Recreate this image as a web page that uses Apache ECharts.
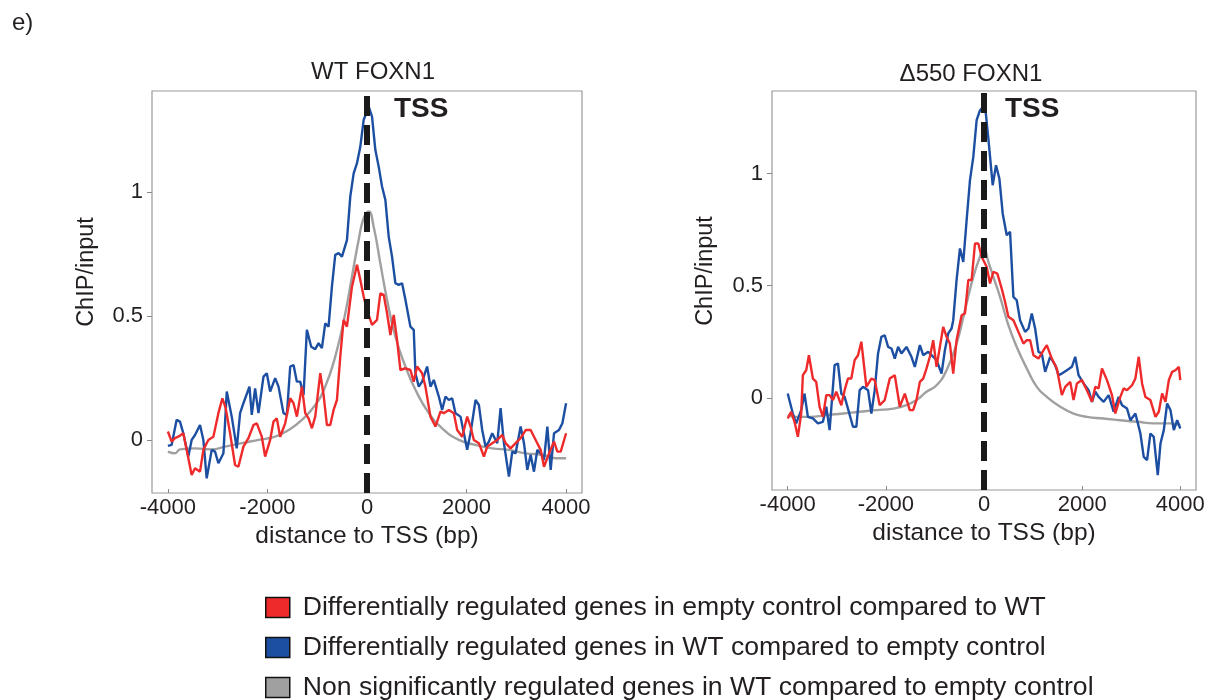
<!DOCTYPE html>
<html>
<head>
<meta charset="utf-8">
<script src="https://cdn.jsdelivr.net/npm/echarts@6/dist/echarts.min.js"></script>
<style>
html, body { margin: 0; padding: 0; background: #fff; }
#main { width: 1208px; height: 700px; }
</style>
</head>
<body>
<div id="main"></div>
<script>
// series names (legend)
var names = [
    'Differentially regulated genes in empty control compared to WT',
    'Differentially regulated genes in WT compared to empty control',
    'Non significantly regulated genes in WT compared to empty control'
];
var colors = ['#ee2a2b', '#1c4fa2', '#a0a0a0'];
var xTicks = [-4000, -2000, 0, 2000, 4000];
var yTicks = [0, 0.5, 1];

// WT FOXN1 panel, [distance bp, ChIP/input]
var wtRed = [[-4000,0.034],[-3926,-0.007],[-3859,0.007],[-3792,0.013],[-3691,0.027],[-3604,-0.060],[-3523,-0.141],[-3456,-0.114],[-3355,-0.128],[-3288,-0.040],[-3188,0],[-3087,0.013],[-2986,0.108],[-2906,0.168],[-2839,0.128],[-2751,0.027],[-2651,-0.101],[-2584,-0.108],[-2483,-0.027],[-2382,0.007],[-2281,0.060],[-2214,0.067],[-2114,0.013],[-2047,-0.067],[-1946,0],[-1879,0.074],[-1812,0.087],[-1745,0.013],[-1644,0.067],[-1543,0.168],[-1476,0.148],[-1409,0.094],[-1308,0.215],[-1241,0.108],[-1174,0.087],[-1107,0.047],[-1040,0.094],[-939,0.269],[-872,0.181],[-805,0.060],[-738,0.060],[-671,0.121],[-604,0.161],[-537,0.336],[-470,0.484],[-403,0.457],[-302,0.618],[-201,0.706],[-134,0.645],[-67,0.578],[0,0.524],[101,0.464],[201,0.484],[268,0.591],[336,0.585],[403,0.511],[470,0.423],[537,0.504],[604,0.403],[671,0.282],[772,0.289],[872,0.282],[939,0.235],[1007,0.296],[1107,0.269],[1174,0.215],[1275,0.094],[1376,0.054],[1476,0.114],[1543,0.108],[1644,0.121],[1745,0.108],[1812,0.040],[1913,0.013],[2013,0.094],[2080,0.054],[2147,0],[2248,-0.013],[2349,-0.067],[2416,-0.027],[2516,-0.013],[2617,0],[2718,0.020],[2785,-0.013],[2885,-0.034],[2986,-0.013],[3087,0.007],[3188,0.040],[3288,0.040],[3389,0],[3489,-0.040],[3556,-0.108],[3658,-0.054],[3758,-0.007],[3825,-0.047],[3892,-0.047],[4000,0.027]];

var wtBlue = [[-4000,-0.024],[-3926,-0.020],[-3825,0.081],[-3758,0.074],[-3691,0.027],[-3590,-0.067],[-3523,0],[-3456,0.020],[-3355,0.060],[-3288,0],[-3221,-0.155],[-3120,-0.040],[-3053,-0.047],[-2986,-0.094],[-2885,-0.054],[-2818,0.195],[-2718,0.094],[-2617,-0.034],[-2550,0.108],[-2483,0.148],[-2449,0.141],[-2362,0.215],[-2315,0.101],[-2248,0.208],[-2181,0.108],[-2080,0.255],[-2013,0.269],[-1946,0.195],[-1845,0.249],[-1778,0.215],[-1678,0.108],[-1610,0.101],[-1543,0.296],[-1476,0.302],[-1409,0.235],[-1342,0.235],[-1275,0.181],[-1208,0.444],[-1121,0.376],[-1040,0.366],[-973,0.390],[-906,0.370],[-839,0.470],[-772,0.457],[-705,0.618],[-638,0.746],[-570,0.753],[-503,0.739],[-403,0.806],[-336,0.981],[-268,1.075],[-201,1.116],[-134,1.183],[-67,1.290],[34,1.344],[101,1.304],[168,1.169],[235,1.102],[302,1.022],[369,0.968],[436,0.820],[503,0.739],[570,0.632],[638,0.625],[705,0.632],[772,0.565],[872,0.457],[939,0.444],[973,0.269],[1040,0.215],[1107,0.235],[1208,0.296],[1275,0.215],[1342,0.242],[1443,0.175],[1510,0.121],[1577,0.175],[1644,0.161],[1711,0.168],[1778,0.108],[1879,0.094],[1946,0.027],[2013,-0.040],[2080,0.027],[2181,0.161],[2248,0.141],[2315,0.040],[2382,-0.027],[2449,-0.007],[2516,0.027],[2617,-0.013],[2684,0.128],[2751,-0.013],[2852,-0.148],[2919,-0.047],[2986,-0.054],[3087,0.054],[3154,-0.013],[3221,-0.121],[3288,-0.060],[3355,-0.128],[3422,-0.040],[3489,-0.054],[3556,-0.081],[3624,0.054],[3691,-0.121],[3758,0.027],[3858,0.040],[3926,0.067],[4000,0.148]];

var wtGray = [[-4000,-0.047],[-3859,-0.054],[-3758,-0.038],[-3456,-0.034],[-3120,-0.038],[-2852,-0.027],[-2517,-0.013],[-2181,0],[-1846,0.013],[-1577,0.040],[-1308,0.081],[-1040,0.141],[-839,0.215],[-638,0.336],[-436,0.511],[-302,0.659],[-168,0.806],[-67,0.894],[34,0.921],[134,0.860],[268,0.712],[403,0.565],[570,0.417],[772,0.296],[973,0.202],[1242,0.108],[1510,0.047],[1845,0],[2181,-0.020],[2517,-0.034],[2852,-0.040],[3188,-0.054],[3523,-0.060],[3792,-0.074],[4000,-0.074]];

// Δ550 FOXN1 panel
var dRed = [[-4000,-0.092],[-3930,-0.062],[-3861,-0.107],[-3793,-0.174],[-3725,-0.070],[-3691,0.101],[-3623,0.123],[-3568,0.190],[-3487,0.086],[-3419,0.071],[-3350,-0.040],[-3282,-0.085],[-3214,0.012],[-3146,0.012],[-3078,-0.010],[-3010,0.027],[-2908,-0.033],[-2840,0.034],[-2772,0.086],[-2704,0.086],[-2636,0.168],[-2567,0.190],[-2499,0.250],[-2397,0.049],[-2295,0.086],[-2227,0.079],[-2125,-0.033],[-2023,-0.010],[-1920,0.086],[-1818,0.101],[-1716,-0.040],[-1614,0.019],[-1512,-0.055],[-1444,-0.055],[-1376,-0.010],[-1307,0.071],[-1239,0.086],[-1171,0.131],[-1103,0.183],[-1035,0.257],[-967,0.138],[-899,0.227],[-831,0.316],[-763,0.272],[-695,0.242],[-627,0.108],[-559,0.257],[-456,0.368],[-388,0.376],[-320,0.525],[-252,0.525],[-184,0.688],[-116,0.688],[-48,0.629],[54,0.584],[123,0.510],[191,0.562],[272,0.554],[361,0.487],[429,0.428],[497,0.361],[599,0.346],[701,0.294],[803,0.242],[872,0.257],[940,0.257],[1008,0.190],[1110,0.175],[1212,0.212],[1280,0.235],[1382,0.175],[1484,0.131],[1587,0.012],[1655,0.049],[1757,0.071],[1825,-0.010],[1893,0.064],[1995,0.079],[2097,0.034],[2200,-0.018],[2268,0.049],[2336,0.042],[2404,0.131],[2506,0.079],[2608,0.012],[2676,-0.070],[2778,0.004],[2846,0.042],[2915,0.034],[3017,0.056],[3085,0.086],[3153,0.183],[3221,0.064],[3289,0.004],[3391,-0.010],[3494,-0.085],[3562,-0.062],[3630,0.019],[3698,-0.018],[3766,0.079],[3834,0.116],[3902,0.123],[3970,0.138],[4000,0.079]];

var dBlue = [[-4000,0.019],[-3895,-0.070],[-3827,-0.114],[-3725,-0.055],[-3657,0.019],[-3589,-0.085],[-3487,-0.092],[-3385,-0.114],[-3282,-0.107],[-3214,-0.040],[-3146,-0.144],[-3044,0.146],[-2976,0.153],[-2908,0.019],[-2840,0.004],[-2772,-0.048],[-2670,-0.129],[-2601,-0.129],[-2533,0.034],[-2465,0.049],[-2363,0.034],[-2295,-0.070],[-2227,0.034],[-2159,0.198],[-2091,0.272],[-2023,0.279],[-1954,0.227],[-1886,0.220],[-1818,0.175],[-1750,0.227],[-1682,0.198],[-1580,0.227],[-1478,0.183],[-1410,0.138],[-1307,0.235],[-1239,0.190],[-1137,0.205],[-1035,0.183],[-967,0.168],[-865,0.108],[-797,0.212],[-729,0.287],[-661,0.309],[-627,0.346],[-559,0.525],[-490,0.666],[-422,0.606],[-354,0.792],[-286,0.970],[-218,1.074],[-150,1.238],[-82,1.282],[20,1.305],[89,1.156],[177,0.948],[245,1.037],[313,0.978],[381,0.822],[463,0.725],[531,0.740],[599,0.450],[667,0.435],[735,0.346],[838,0.294],[906,0.309],[974,0.376],[1042,0.309],[1110,0.205],[1178,0.198],[1246,0.116],[1348,0.183],[1451,0.146],[1519,0.101],[1587,0.108],[1689,0.123],[1791,0.138],[1859,0.183],[1927,0.101],[2030,0.064],[2132,0.034],[2200,-0.018],[2268,0.027],[2336,0.004],[2438,-0.018],[2540,0.012],[2642,-0.062],[2744,0.004],[2813,-0.033],[2915,-0.048],[2983,-0.100],[3085,-0.070],[3187,-0.159],[3255,-0.263],[3323,-0.278],[3391,-0.159],[3459,-0.174],[3541,-0.345],[3596,-0.204],[3664,-0.144],[3732,-0.025],[3800,-0.055],[3868,-0.144],[3936,-0.100],[4000,-0.137]];

var dGray = [[-4000,-0.077],[-3827,-0.085],[-3555,-0.085],[-3214,-0.077],[-2874,-0.070],[-2533,-0.062],[-2193,-0.055],[-1852,-0.048],[-1580,-0.033],[-1376,-0.010],[-1171,0.027],[-967,0.056],[-763,0.123],[-559,0.242],[-388,0.391],[-218,0.539],[-82,0.629],[0,0.666],[89,0.606],[191,0.539],[327,0.450],[497,0.324],[667,0.227],[872,0.131],[1076,0.049],[1280,0.004],[1553,-0.040],[1825,-0.070],[2097,-0.085],[2438,-0.092],[2778,-0.100],[3119,-0.107],[3460,-0.114],[3800,-0.114],[4000,-0.122]];

var font = '"Liberation Sans", Arial, Helvetica, sans-serif';
var ink = '#231f20';
var chart = echarts.init(document.getElementById('main'));

function xAx(gi) {
    return {
        type: 'value', gridIndex: gi, min: -4320, max: 4320,
        name: 'distance to TSS (bp)', nameLocation: 'middle', nameGap: 31,
        nameTextStyle: { fontFamily: font, fontSize: 24.5, color: ink },
        axisLine: { show: false, onZero: false },
        splitLine: { show: false },
        axisTick: { show: true, inside: true, length: 4, customValues: xTicks, lineStyle: { color: '#888' } },
        axisLabel: { customValues: xTicks, margin: 4, fontFamily: font, fontSize: 22, color: ink,
            formatter: function (v) { return String(v); } }
    };
}
function yAx(gi, mn, mx) {
    return {
        type: 'value', gridIndex: gi, min: mn, max: mx,
        axisLine: { show: false, onZero: false },
        splitLine: { show: false },
        axisTick: { show: true, length: 5, customValues: yTicks, lineStyle: { color: '#888' } },
        axisLabel: { customValues: yTicks, margin: 9, fontFamily: font, fontSize: 22, color: ink,
            formatter: function (v) { return String(v); } }
    };
}
function line(name, gi, data, color, smooth) {
    return {
        name: name, type: 'line', xAxisIndex: gi, yAxisIndex: gi,
        data: data, showSymbol: false, smooth: smooth, animation: false,
        lineStyle: { color: color, width: 2.4 }, itemStyle: { color: color }
    };
}
function tss(gi) {
    return {
        type: 'line', xAxisIndex: gi, yAxisIndex: gi, data: [], z: 10, animation: false,
        markLine: {
            silent: true, symbol: 'none', label: { show: false }, animation: false,
            lineStyle: { color: '#1a1a1a', width: 6, type: [20, 9] },
            data: [{ xAxis: 0 }]
        }
    };
}

var option = {
    backgroundColor: '#fff',
    animation: false,
    title: [
        { text: 'WT FOXN1', left: 368, top: 55, textAlign: 'center',
          textStyle: { fontFamily: font, fontSize: 24, fontWeight: 'normal', color: ink } },
        { text: '\u0394550 FOXN1', left: 966, top: 57, textAlign: 'center',
          textStyle: { fontFamily: font, fontSize: 24, fontWeight: 'normal', color: ink } }
    ],
    legend: {
        orient: 'vertical', left: 265, top: 594, height: 200, padding: 0,
        icon: 'rect', itemWidth: 24, itemHeight: 20, itemGap: 13,
        itemStyle: { borderColor: '#111', borderWidth: 1.5 },
        textStyle: { fontFamily: font, fontSize: 26.6, lineHeight: 27, color: ink, padding: [0, 0, 0, 8] },
        data: names
    },
    grid: [
        { left: 152, right: 626, top: 91, bottom: 207, show: true, borderColor: '#999', borderWidth: 1.2 },
        { left: 772, right: 12, top: 91, bottom: 210, show: true, borderColor: '#999', borderWidth: 1.2 }
    ],
    xAxis: [xAx(0), xAx(1)],
    yAxis: [yAx(0, -0.214, 1.407), yAx(1, -0.411, 1.368)],
    graphic: [
        { type: 'text', left: 12, top: 11, style: { text: 'e)', font: '24px ' + font, fill: ink } },
        { type: 'text', x: 87, y: 272, rotation: Math.PI / 2,
          style: { text: 'ChIP/input', font: '23.5px ' + font, fill: ink, align: 'center', verticalAlign: 'middle' } },
        { type: 'text', x: 706, y: 271, rotation: Math.PI / 2,
          style: { text: 'ChIP/input', font: '23.5px ' + font, fill: ink, align: 'center', verticalAlign: 'middle' } },
        { type: 'text', left: 394, top: 95, style: { text: 'TSS', font: 'bold 28px ' + font, fill: ink } },
        { type: 'text', left: 1005, top: 95, style: { text: 'TSS', font: 'bold 28px ' + font, fill: ink } }
    ],
    series: [
        line(names[2], 0, wtGray, colors[2], 0.5),
        line(names[1], 0, wtBlue, colors[1], false),
        line(names[0], 0, wtRed, colors[0], false),
        tss(0),
        line(names[2], 1, dGray, colors[2], 0.5),
        line(names[1], 1, dBlue, colors[1], false),
        line(names[0], 1, dRed, colors[0], false),
        tss(1)
    ]
};
chart.setOption(option);
</script>
</body>
</html>
